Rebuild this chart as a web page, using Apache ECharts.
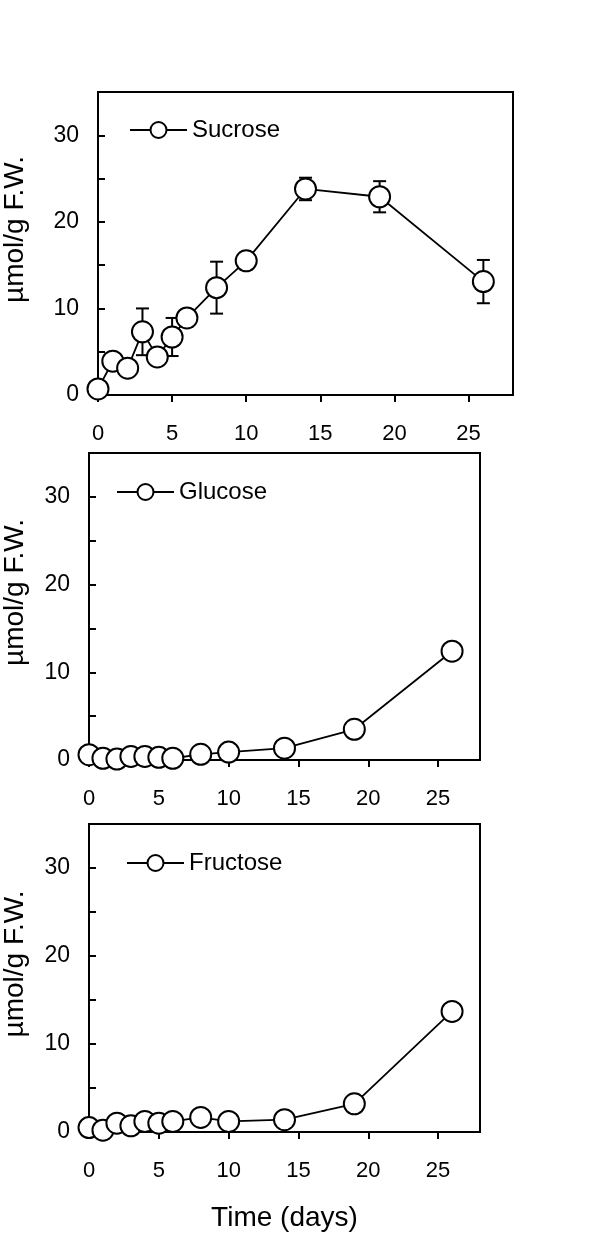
<!DOCTYPE html>
<html>
<head>
<meta charset="utf-8">
<title>Sugars over time</title>
<script src="https://cdn.jsdelivr.net/npm/echarts@6/dist/echarts.min.js"></script>
<style>
  html, body { margin: 0; padding: 0; background: #fff; }
  #chart { width: 600px; height: 1235px; }
</style>
</head>
<body>
<div id="chart"></div>
<script>
// sampling days
const days = [0, 1, 2, 3, 4, 5, 6, 8, 10, 14, 19, 26]

// values (µmol/g F.W.)
const sucrose = [0.7, 3.9, 3.1, 7.3, 4.4, 6.7, 8.9, 12.4, 15.5, 23.8, 22.9, 13.1]
const sucroseErr = [0.4, 0.5, 0.5, 2.7, 0.5, 2.2, 1.0, 3.0, 1.0, 1.3, 1.8, 2.5]
const glucose = [0.6, 0.2, 0.1, 0.4, 0.4, 0.3, 0.2, 0.65, 0.9, 1.35, 3.5, 12.4]
const fructose = [0.5, 0.2, 1.0, 0.7, 1.2, 1.0, 1.2, 1.65, 1.2, 1.4, 3.2, 13.7]

// axis ticks
const xTicks = [0, 5, 10, 15, 20, 25]
const yTicks = [0, 5, 10, 15, 20, 25, 30, 35]
const yLabels = [0, 10, 20, 30]

const FONT = 'Liberation Sans, Arial, sans-serif'

const chart = echarts.init(document.getElementById('chart'))

// panel boxes (left, top, width, height)
const panels = [
  { name: 'Sucrose', values: sucrose, box: [98, 92, 415, 303], legend: [124, 113] },
  { name: 'Glucose', values: glucose, box: [89, 453, 391, 307], legend: [111, 475] },
  { name: 'Fructose', values: fructose, box: [89, 824, 391, 308], legend: [121, 846] }
]

const grid = panels.map((p) => ({
  left: p.box[0],
  top: p.box[1],
  width: p.box[2],
  height: p.box[3],
  show: true,
  borderColor: '#000',
  borderWidth: 2,
  backgroundColor: 'transparent'
}))

const xAxis = panels.map((p, i) => ({
  type: 'value',
  gridIndex: i,
  min: 0,
  max: 28,
  interval: 5,
  splitLine: { show: false },
  axisLine: { show: true, onZero: false, lineStyle: { color: '#000', width: 2 } },
  axisTick: { show: true, inside: false, length: 7, customValues: xTicks, lineStyle: { color: '#000', width: 2 } },
  axisLabel: { customValues: xTicks, margin: 28, color: '#000', fontSize: 22, fontFamily: FONT },
  name: i === 2 ? 'Time (days)' : '',
  nameLocation: 'middle',
  nameGap: 72,
  nameTextStyle: { color: '#000', fontSize: 28, fontFamily: FONT }
}))

const yAxis = panels.map((p, i) => ({
  type: 'value',
  gridIndex: i,
  min: 0,
  max: 35,
  interval: 5,
  splitLine: { show: false },
  axisLine: { show: true, lineStyle: { color: '#000', width: 2 } },
  axisTick: { show: true, inside: true, length: 7, customValues: yTicks, lineStyle: { color: '#000', width: 2 } },
  axisLabel: { customValues: yLabels, margin: 19, color: '#000', fontSize: 23, fontFamily: FONT }
}))

const legend = panels.map((p) => ({
  data: [p.name],
  left: p.legend[0],
  top: p.legend[1],
  itemWidth: 57,
  itemHeight: 20,
  textStyle: { color: '#000', fontSize: 24, fontFamily: FONT },
  selectedMode: false
}))

const series = panels.map((p, i) => ({
  name: p.name,
  type: 'line',
  xAxisIndex: i,
  yAxisIndex: i,
  data: days.map((d, j) => [d, p.values[j]]),
  symbol: 'circle',
  symbolSize: 21,
  z: 3,
  itemStyle: { color: '#fff', borderColor: '#000', borderWidth: 2 },
  lineStyle: { color: '#000', width: 1.8 }
}))

// error bars on sucrose
series.push({
  type: 'custom',
  xAxisIndex: 0,
  yAxisIndex: 0,
  z: 2,
  data: days.map((d, j) => [d, sucrose[j] - sucroseErr[j], sucrose[j] + sucroseErr[j]]),
  encode: { x: 0, y: [1, 2] },
  renderItem: (params, api) => {
    const lo = api.coord([api.value(0), api.value(1)])
    const hi = api.coord([api.value(0), api.value(2)])
    const w = 6.5
    const st = { stroke: '#000', lineWidth: 2 }
    return {
      type: 'group',
      children: [
        { type: 'line', shape: { x1: hi[0], y1: hi[1], x2: lo[0], y2: lo[1] }, style: st },
        { type: 'line', shape: { x1: hi[0] - w, y1: hi[1], x2: hi[0] + w, y2: hi[1] }, style: st },
        { type: 'line', shape: { x1: lo[0] - w, y1: lo[1], x2: lo[0] + w, y2: lo[1] }, style: st }
      ]
    }
  }
})

// rotated y titles, one per panel
const graphic = panels.map((p) => ({
  type: 'text',
  x: 15,
  y: p.box[1] + p.box[3] / 2 - 14,
  rotation: Math.PI / 2,
  style: {
    text: 'µmol/g F.W.',
    font: '28px ' + FONT,
    fill: '#000',
    textAlign: 'center',
    textVerticalAlign: 'middle'
  }
}))

chart.setOption({
  animation: false,
  backgroundColor: '#fff',
  grid,
  xAxis,
  yAxis,
  legend,
  series,
  graphic
})
</script>
</body>
</html>
